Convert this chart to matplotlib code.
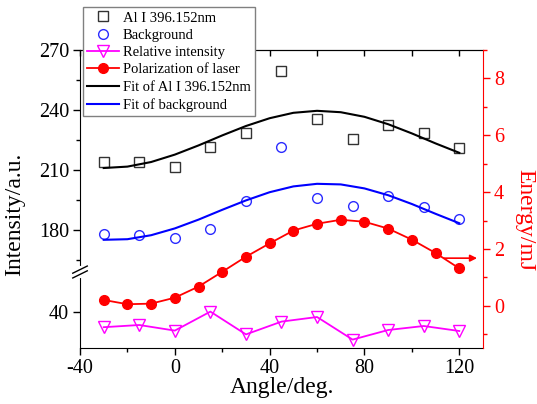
import numpy as np
import matplotlib
matplotlib.use('Agg')
import matplotlib.pyplot as plt
from matplotlib.ticker import FixedLocator

plt.rcParams['font.family'] = ['Liberation Serif', 'DejaVu Serif']
plt.rcParams['axes.unicode_minus'] = False

# measured points (left axis, a.u.)
angle = [-30, -15, 0, 15, 30, 45, 60, 75, 90, 105, 120]
al_line = [214.2, 213.8, 211.7, 221.5, 228.7, 259.5, 235.3, 225.3, 232.3, 228.5, 221.0]
background = [178.0, 177.3, 176.2, 180.5, 194.5, 221.5, 196.0, 192.2, 197.0, 191.7, 185.3]
rel_intensity = [32.4, 33.5, 30.7, 40.2, 28.8, 35.2, 37.5, 26.2, 31.0, 33.0, 30.5]

# laser polarization energy (right axis, mJ)
angle_pol = [-30, -20, -10, 0, 10, 20, 30, 40, 50, 60, 70, 80, 90, 100, 110, 120]
energy = [0.21, 0.06, 0.08, 0.29, 0.68, 1.20, 1.73, 2.20, 2.65, 2.89, 3.03, 2.96,
          2.72, 2.33, 1.86, 1.32]

# fit curves
angle_fit = [-30, -20, -10, 0, 10, 20, 30, 40, 50, 60, 70, 80, 90, 100, 110, 120]
fit_al = [211.0, 211.7, 214.0, 217.7, 222.3, 227.3, 232.0, 235.9, 238.6, 239.6,
          238.9, 236.6, 232.9, 228.3, 223.3, 218.6]
fit_bg = [175.1, 175.4, 177.4, 180.8, 185.2, 190.1, 194.8, 198.9, 201.8, 203.1,
          202.8, 200.8, 197.4, 193.0, 188.1, 183.4]

x_major = [-40, 0, 40, 80, 120]
x_minor = [-20, 20, 60, 100]
y_major = [40, 180, 210, 240, 270]
y_minor = [165, 195, 225, 255]
e_major = [0, 2, 4, 6, 8]
e_minor = [-1, 1, 3, 5, 7, 9]


# broken left axis: 22..60 below the break, 159..270 above it
def fwd(y):
    y = np.asarray(y, dtype=float)
    return np.where(y <= 60, y - 22, np.where(y >= 159, y - 121, 38))


def inv(t):
    t = np.asarray(t, dtype=float)
    return np.where(t < 38, t + 22, t + 121)


fig = plt.figure(figsize=(5.37, 4.04), dpi=100)
ax = fig.add_axes([0.149, 0.1386, 0.7504, 0.7376])
ax.set_yscale('function', functions=(fwd, inv))
ax.set_xlim(-40, 130)
ax.set_ylim(22, 270)

h_al, = ax.plot(angle, al_line, ls='none', marker='s', ms=7, mfc='none',
                mec='#333333', mew=1.0, label='Al I 396.152nm')
h_bg, = ax.plot(angle, background, ls='none', marker='o', ms=7, mfc='none',
                mec='#2b2bff', mew=1.0, label='Background')
h_rel, = ax.plot(angle, rel_intensity, color='#ff00ff', lw=1.3, marker='v', ms=8,
                 mfc='none', mec='#ff00ff', mew=1.0, label='Relative intensity')
h_fal, = ax.plot(angle_fit, fit_al, color='black', lw=1.5, label='Fit of Al I 396.152nm')
h_fbg, = ax.plot(angle_fit, fit_bg, color='#0000ff', lw=1.5, label='Fit of background')

ax.xaxis.set_major_locator(FixedLocator(x_major))
ax.xaxis.set_minor_locator(FixedLocator(x_minor))
ax.yaxis.set_major_locator(FixedLocator(y_major))
ax.yaxis.set_minor_locator(FixedLocator(y_minor))
ax.tick_params(axis='both', which='major', labelsize=14.5, length=5, width=1, pad=3)
ax.tick_params(axis='both', which='minor', length=3, width=1)
ax.tick_params(axis='y', right=False)
ax.spines['right'].set_visible(False)
ax.set_xlabel('Angle/deg.', fontsize=17, labelpad=-1)
ax.set_ylabel('Intensity/a.u.', fontsize=17)
ax.yaxis.set_label_coords(-0.136, 0.45)

# top ticks pointing inward
top = ax.secondary_xaxis('top')
top.xaxis.set_major_locator(FixedLocator(x_major))
top.xaxis.set_minor_locator(FixedLocator(x_minor))
top.tick_params(which='both', direction='in', length=4, width=1, labeltop=False)

# break marks on the left spine
yb = 1 - (272 - 50) / 298.0
ax.plot([0, 0], [yb - 0.014, yb + 0.014], transform=ax.transAxes, color='white',
        lw=3, clip_on=False, zorder=5)
for dy in (-0.008, 0.008):
    ax.plot([-0.018, 0.018], [yb + dy - 0.012, yb + dy + 0.012], transform=ax.transAxes,
            color='black', lw=1, clip_on=False, zorder=6)

# right axis: laser energy
ax2 = ax.twinx()
ax2.set_ylim(-1.48, 9.0)
h_pol, = ax2.plot(angle_pol, energy, color='#ff0000', lw=1.3, marker='o', ms=7,
                  mfc='#ff0000', mec='#ff0000', label='Polarization of laser')
ax2.yaxis.set_major_locator(FixedLocator(e_major))
ax2.yaxis.set_minor_locator(FixedLocator(e_minor))
ax2.tick_params(axis='y', which='major', colors='#ff0000', labelsize=14.5, length=5,
                width=1, pad=3)
ax2.tick_params(axis='y', which='minor', colors='#ff0000', length=3, width=1)
for s in ('left', 'top', 'bottom'):
    ax2.spines[s].set_visible(False)
ax2.spines['right'].set_color('#ff0000')
ax2.set_ylabel('Energy/mJ', fontsize=17, color='#ff0000', rotation=270, va='center')
ax2.yaxis.set_label_coords(1.103, 0.43)
ax2.annotate('', xy=(127.5, 1.68), xytext=(113.5, 1.68),
             arrowprops=dict(arrowstyle='-|>', color='#ff0000', lw=1.2,
                             shrinkA=0, shrinkB=0, mutation_scale=10))

handles = [h_al, h_bg, h_rel, h_pol, h_fal, h_fbg]
leg = fig.legend(handles, [h.get_label() for h in handles], loc='upper left',
                 bbox_to_anchor=(83 / 537, 1 - 7 / 404), borderaxespad=0,
                 fontsize=10.5, frameon=True, fancybox=False, edgecolor='#808080',
                 framealpha=1, labelspacing=0.28, handlelength=2.2, handletextpad=0.25,
                 borderpad=0.3, numpoints=1)
leg.get_frame().set_linewidth(1.0)
leg.set_zorder(20)

fig.savefig('out.png', dpi=100)
